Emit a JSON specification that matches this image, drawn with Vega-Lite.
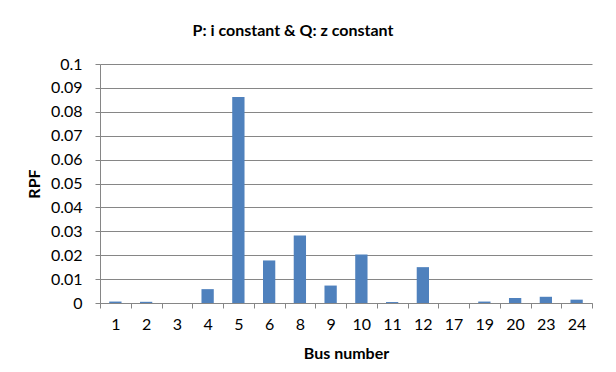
{
  "$schema": "https://vega.github.io/schema/vega-lite/v6.json",
  "width": 492,
  "height": 239,
  "autosize": {"type": "none"},
  "padding": {"left": 100, "top": 64, "right": 24, "bottom": 69},
  "background": "white",
  "title": {
    "text": "P: i constant & Q: z constant",
    "font": "Lato",
    "fontSize": 16,
    "fontWeight": "bold",
    "color": "#000000",
    "anchor": "middle",
    "dx": -53,
    "offset": 17
  },
  "data": {
    "values": [
      {"bus": "1", "rpf": 0.0006},
      {"bus": "2", "rpf": 0.0005},
      {"bus": "3", "rpf": 0.0},
      {"bus": "4", "rpf": 0.0058},
      {"bus": "5", "rpf": 0.0862},
      {"bus": "6", "rpf": 0.0178},
      {"bus": "8", "rpf": 0.0282},
      {"bus": "9", "rpf": 0.0073},
      {"bus": "10", "rpf": 0.0203},
      {"bus": "11", "rpf": 0.0004},
      {"bus": "12", "rpf": 0.015},
      {"bus": "17", "rpf": 0.0},
      {"bus": "19", "rpf": 0.0006},
      {"bus": "20", "rpf": 0.0021},
      {"bus": "23", "rpf": 0.0026},
      {"bus": "24", "rpf": 0.0014}
    ]
  },
  "mark": {"type": "bar", "color": "#4F81BD", "width": {"band": 0.4}},
  "encoding": {
    "x": {
      "field": "bus",
      "type": "ordinal",
      "sort": null,
      "scale": {"paddingInner": 0, "paddingOuter": 0},
      "axis": {
        "title": "Bus number",
        "titleFont": "Lato",
        "titleFontSize": 16,
        "titleFontWeight": "bold",
        "titleColor": "#000000",
        "titlePadding": 13,
        "labelFont": "Lato",
        "labelFontSize": 16,
        "labelColor": "#000000",
        "labelAngle": 0,
        "labelPadding": 8,
        "tickBand": "extent",
        "ticks": true,
        "tickSize": 5,
        "tickColor": "#868686",
        "domainColor": "#868686",
        "grid": false
      }
    },
    "y": {
      "field": "rpf",
      "type": "quantitative",
      "scale": {"domain": [0, 0.1], "nice": false},
      "axis": {
        "title": "RPF",
        "titleFont": "Lato",
        "titleFontSize": 16,
        "titleFontWeight": "bold",
        "titleColor": "#000000",
        "titlePadding": 8,
        "values": [0, 0.01, 0.02, 0.03, 0.04, 0.05, 0.06, 0.07, 0.08, 0.09, 0.1],
        "format": "~g",
        "labelFont": "Lato",
        "labelFontSize": 16,
        "labelColor": "#000000",
        "labelPadding": 13,
        "tickSize": 5,
        "tickColor": "#868686",
        "domainColor": "#868686",
        "grid": true,
        "gridColor": "#868686"
      }
    }
  },
  "config": {"view": {"stroke": null}}
}
